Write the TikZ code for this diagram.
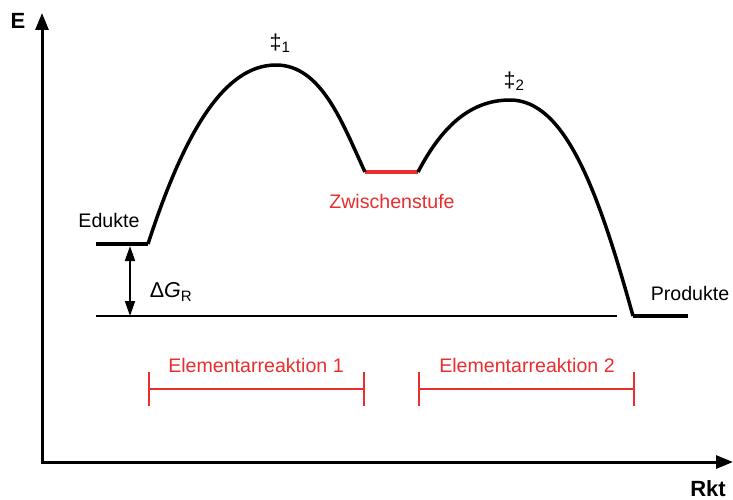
\documentclass[tikz,border=0pt]{standalone}
\usepackage{fontspec}
\setmainfont{Liberation Sans}
\usetikzlibrary{arrows.meta}
\definecolor{rred}{RGB}{234,45,46}
\begin{document}
\begin{tikzpicture}[x=1pt,y=-1pt,
  lbl/.style={inner sep=0pt, font=\fontsize{19.6}{22}\selectfont},
  axlbl/.style={inner sep=0pt, font=\fontsize{22}{24}\selectfont\bfseries},
  axis/.style={line width=3pt, -{Triangle[length=17pt,width=13pt]}},
  level/.style={line width=4pt},
  curve/.style={line width=3.5pt},
  redbar/.style={rred, line width=2.6pt},
  redtick/.style={rred, line width=2pt}]
\useasboundingbox (0,0) rectangle (733,500);
% axes
\coordinate (O) at (42,462);
\coordinate (Ytop) at (42,13);
\coordinate (Xend) at (733,462);
\draw[axis] (O) -- (Ytop);
\draw[axis] ([xshift=-1.5pt]O) -- (Xend);
\node[axlbl] (E) at (18,21) {E};
\node[axlbl] (Rkt) at (708,489) {Rkt};
% levels
\coordinate (Ea) at (96,244);
\coordinate (Eb) at (148,244);
\coordinate (P1) at (276,65);
\coordinate (Za) at (365,172);
\coordinate (Zb) at (418,172);
\coordinate (P2) at (510,100);
\coordinate (Pa) at (633,316);
\coordinate (Pb) at (688,316);
\draw[level] (Ea) -- (Eb);
\draw[level] (Pa) -- (Pb);
\draw[level, rred] (Za) -- (Zb);
\draw[curve, line join=round] (Eb) .. controls (185,130) and (225,65) .. (P1)
  .. controls (322,65) and (343,125) .. (Za);
\draw[curve, line join=round] (Zb) .. controls (440,130) and (468,100) .. (P2)
  .. controls (565,100) and (598,190) .. (Pa);
% reference line
\coordinate (Ra) at (96,316);
\coordinate (Rb) at (617,316);
\draw[line width=1.5pt] (Ra) -- (Rb);
% delta G arrow
\coordinate (Da) at (130,246);
\coordinate (Db) at (130,316);
\draw[line width=1.8pt, {Triangle[length=15pt,width=10pt]}-{Triangle[length=15pt,width=10pt]}] (Da) -- (Db);
\node[lbl, font=\fontsize{21.5}{24}\selectfont] (dG) at (171,292) {Δ\textit{G}\textsubscript{R}};
% labels
\node[lbl] (Edukte) at (109,220) {Edukte};
\node[lbl] (Produkte) at (690,293) {Produkte};
\node[lbl, font=\fontsize{21.5}{24}\selectfont] (TS1) at (280,43) {‡\textsubscript{1}};
\node[lbl, font=\fontsize{21.5}{24}\selectfont] (TS2) at (514,81) {‡\textsubscript{2}};
\node[lbl, text=rred] (Zw) at (392,201) {Zwischenstufe};
% Elementarreaktionen
\coordinate (A1) at (149,389);
\coordinate (B1) at (364,389);
\coordinate (A2) at (419,389);
\coordinate (B2) at (634,389);
\draw[redbar] (A1) -- (B1);
\draw[redbar] (A2) -- (B2);
\foreach \c in {A1,B1,A2,B2}{
  \draw[redtick] ([yshift=-17pt]\c) -- ([yshift=17pt]\c);
}
\node[lbl, text=rred] (ER1) at (256,365) {Elementarreaktion 1};
\node[lbl, text=rred] (ER2) at (527,365) {Elementarreaktion 2};
\end{tikzpicture}
\end{document}
